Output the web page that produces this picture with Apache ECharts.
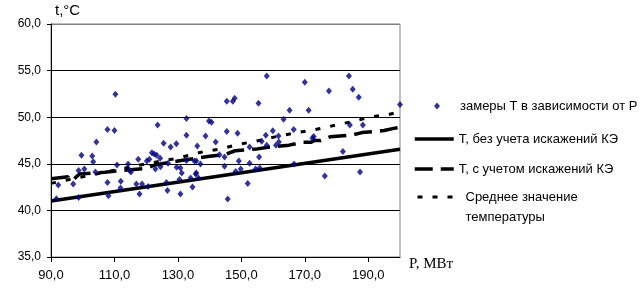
<!DOCTYPE html>
<html><head><meta charset="utf-8">
<script src="https://cdn.jsdelivr.net/npm/echarts@6/dist/echarts.min.js"></script>
<style>html,body{margin:0;padding:0;background:#fff}#c{width:640px;height:297px}</style>
</head><body><div id="c"></div>
<script>
// Measurements: [P, T]
const measuredP = [91.7,92.3,97.0,98.7,98.7,99.6,100.5,103.0,103.3,104.0,104.3,107.8,107.8,108.1,110.0,110.3,110.8,112.0,111.9,114.3,114.8,115.2,116.9,117.5,117.9,118.7,120.2,120.6,121.0,121.8,122.5,122.9,123.3,123.6,124.5,124.4,125.5,126.4,126.7,126.9,127.7,129.5,129.6,130.5,130.8,130.8,131.2,132.7,132.7,132.7,134.0,134.6,135.2,135.8,135.8,135.6,136.1,136.5,137.1,138.7,139.8,140.6,141.9,143.1,144.7,144.7,145.4,145.4,145.7,147.3,147.9,148.2,148.8,149.2,149.8,152.0,152.6,152.6,154.5,155.4,155.6,155.8,156.4,157.7,158.0,158.0,159.9,160.9,161.7,161.8,163.3,165.2,166.5,166.6,170.0,171.2,172.4,172.8,176.3,177.6,182.0,183.9,184.2,185.1,187.0,187.4,188.3,200.0];
const measuredT = [41.25,42.72,42.82,41.39,44.28,45.93,44.43,45.83,45.21,44.11,47.33,48.68,43.0,41.57,48.57,52.47,44.86,43.14,42.4,44.97,44.32,44.11,42.82,45.5,41.75,42.82,45.29,42.57,45.5,46.18,46.04,44.43,45.93,49.15,44.68,45.6,47.2,43.0,42.14,45.07,46.8,47.15,44.64,43.32,44.54,41.75,44.0,49.85,48.07,45.35,43.47,42.5,45.29,45.29,44.0,43.9,46.9,43.47,44.97,47.97,49.58,49.47,47.33,45.96,45.72,44.75,48.46,51.72,41.22,51.72,52.04,44.17,48.29,45.29,44.43,42.89,45.07,46.79,44.43,51.5,45.72,44.54,47.43,48.07,54.43,47.0,48.54,47.0,47.97,47.33,49.79,50.75,48.68,44.97,53.75,50.75,47.75,47.93,43.68,52.82,46.32,54.43,49.15,53.0,52.15,44.11,49.15,51.36];

// T without distortions (solid)
const noDistP = [90, 200];
const noDistT = [41.0, 46.55];

// T with distortions (long dash)
const withDistP = [90,95.4,95.6,97,99,107,113,120,123,130,130.5,136,140,145,148,155,159,165,169,172,173,175,178,185,188,195,198,200];
const withDistT = [43.4,43.6,43.3,43.3,43.9,44.1,44.3,44.5,44.9,45.3,45.5,45.6,45.8,46.0,46.4,46.6,46.8,47.0,47.3,47.3,47.5,47.5,47.9,48.1,48.35,48.57,48.8,48.9];

// Mean temperature (short dash)
const meanP = [90,100,110,120,130,138,143.5,148,152.5,157,162,167,172,176.5,181,186,191,196,200];
const meanT = [42.9,43.6,44.3,45.0,45.6,46.3,46.6,47.0,47.3,47.6,48.0,48.3,48.6,48.9,49.25,49.6,50.05,50.25,50.6];

const xTicks = [90,110,130,150,170,190];
const yMin = 35, yMax = 60, yStep = 5;

const names = ['замеры Т в зависимости от Р','Т, без учета искажений КЭ','Т, с учетом искажений КЭ','Среднее значение температуры'];

const zip = (a,b) => a.map((v,i)=>[v,b[i]]);
const fmt = v => v.toFixed(1).replace('.', ',');
const FONT = 'Liberation Sans';

const chart = echarts.init(document.getElementById('c'), null, {renderer:'canvas'});
const legendBase = {orient:'horizontal', padding:0, itemWidth:39, itemHeight:14, selectedMode:false,
  itemStyle:{opacity:0},
  textStyle:{fontFamily:FONT, fontSize:13, color:'#000', lineHeight:16}};
chart.setOption({
  animation:false,
  backgroundColor:'#fff',
  grid:{left:51, top:24, width:349, height:233, show:true, borderColor:'#808080', borderWidth:1, backgroundColor:'transparent', containLabel:false},
  xAxis:{type:'value', min:90, max:200,
    name:'P, МВт', nameLocation:'end', nameGap:9,
    nameTextStyle:{fontFamily:'Liberation Serif', fontSize:15, color:'#000', verticalAlign:'top', align:'left'},
    axisLine:{show:true, onZero:false, lineStyle:{color:'#000', width:1}},
    axisTick:{show:true, length:5, customValues:xTicks, lineStyle:{color:'#000'}},
    axisLabel:{customValues:xTicks, formatter:fmt, margin:12, fontFamily:FONT, fontSize:13, color:'#000'},
    splitLine:{show:false}},
  yAxis:{type:'value', min:yMin, max:yMax, interval:yStep,
    name:'t,°C', nameLocation:'end', nameGap:6,
    nameTextStyle:{fontFamily:FONT, fontSize:15, color:'#000', align:'left', padding:[0,0,0,4]},
    axisLine:{show:true, lineStyle:{color:'#000', width:1}},
    axisTick:{show:true, length:4, lineStyle:{color:'#000'}},
    axisLabel:{formatter:fmt, margin:10, fontFamily:FONT, fontSize:12, color:'#000'},
    splitLine:{show:true, lineStyle:{color:['#000','#000','#000','#000','#000','#808080'], width:1}}},
  legend:[
    {orient:'horizontal', padding:0, selectedMode:false, data:[{name:names[0], icon:'diamond'}], left:434, top:98, itemWidth:6, itemHeight:7,
      itemStyle:{color:'#000080'},
      textStyle:{fontFamily:FONT, fontSize:13, color:'#000', lineHeight:16, padding:[0,0,0,15]}},
    Object.assign({}, legendBase, {data:[names[1]], left:413, top:131, lineStyle:{width:3.5, color:'#000'}}),
    Object.assign({}, legendBase, {data:[names[2]], left:413, top:161, lineStyle:{width:3.5, color:'#000'}}),
    Object.assign({}, legendBase, {data:[names[3]], left:416, top:167, lineStyle:{width:3, color:'#000'},
      formatter:()=>' \nСреднее значение\nтемпературы', textStyle:{fontFamily:FONT, fontSize:13, color:'#000', lineHeight:20, padding:[0,0,0,4]}})
  ],
  series:[
    {name:names[1], type:'line', data:zip(noDistP,noDistT), symbol:'none', z:2,
      itemStyle:{color:'#000'}, lineStyle:{color:'#000', width:3.5, type:'solid'}},
    {name:names[2], type:'line', data:zip(withDistP,withDistT), symbol:'none', z:2,
      itemStyle:{color:'#000'}, lineStyle:{color:'#000', width:3.5, type:[18,8]}},
    {name:names[3], type:'line', data:zip(meanP,meanT), symbol:'none', z:2,
      itemStyle:{color:'#000'}, lineStyle:{color:'#000', width:3, type:[5,10]}},
    {name:names[0], type:'scatter', data:zip(measuredP,measuredT), symbol:'diamond', symbolSize:[6,7], z:3,
      itemStyle:{color:'#000080'}}
  ]
});
</script></body></html>
